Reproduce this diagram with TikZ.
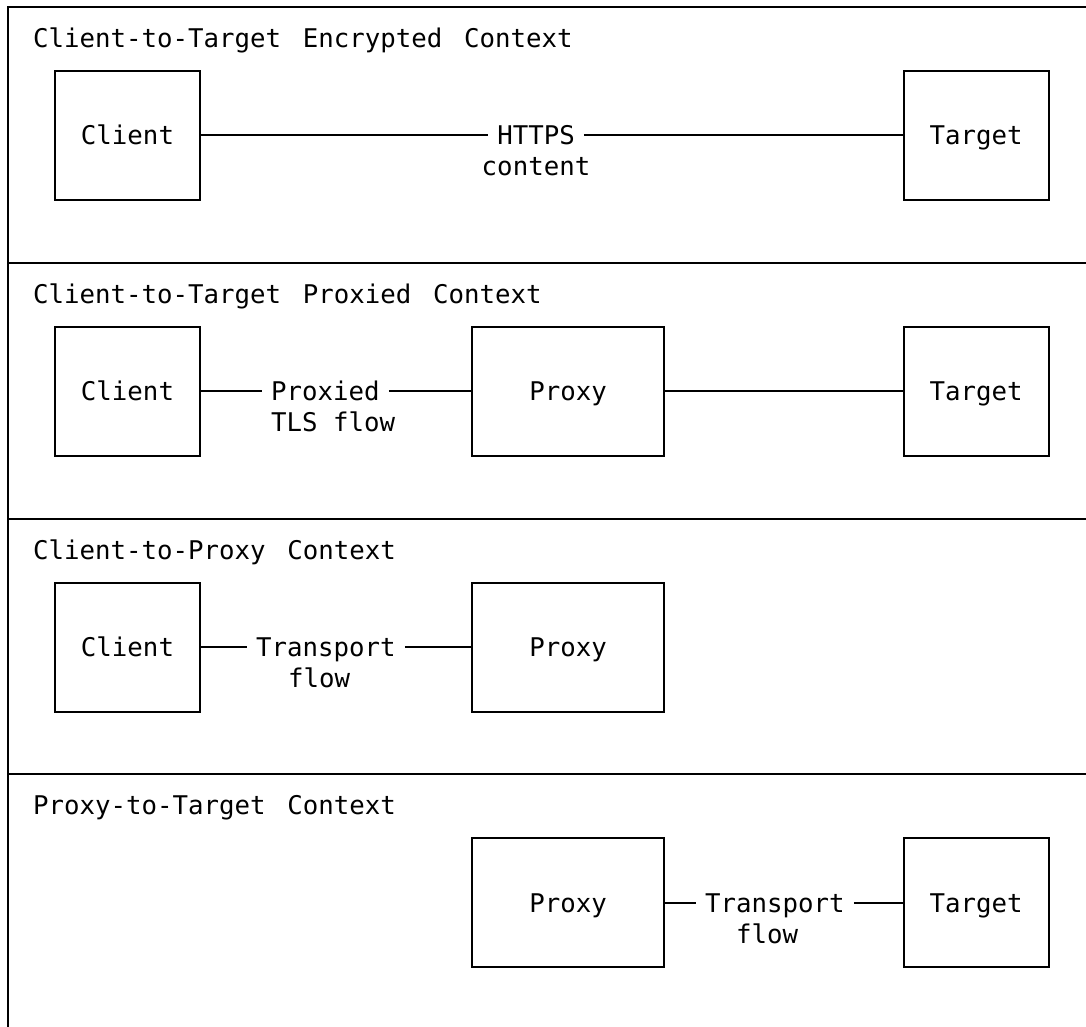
\documentclass[tikz,border=0pt]{standalone}
\usepackage{fontspec}
\newfontfamily\diagfont{DejaVu Sans Mono}
\usetikzlibrary{positioning}

\begin{document}
\begin{tikzpicture}[x=1pt,y=-1pt]
                \tikzstyle{every node}=[font=\diagfont\fontsize{25.75pt}{31pt}\selectfont]
                \tikzstyle{box} = [draw=black, line width=2pt, minimum width=145pt, minimum height=129pt, text height=18.8pt, text depth=0pt, inner sep=0pt]
                \tikzstyle{widebox} = [box, minimum width=192pt]
                \tikzstyle{flowtext} = [inner xsep=9pt, inner ysep=0pt, text height=18.8pt, text depth=0pt]
                \tikzstyle{title} = [font={\diagfont\fontsize{25.75pt}{31pt}\selectfont\spaceskip=21.7pt\relax}, inner sep=0pt, anchor=base west]
                \tikzstyle{edge} = [line width=2pt]

                \useasboundingbox (0,0) rectangle (1086,1027);

                % frame and dividers
                \draw[edge] (7.5,1027) -- (7.5,7.5) -- (1086,7.5);
                \foreach \y in {263.1,518.7,774.3}
                    \draw[edge] (7.5,\y) -- (1086,\y);

                \node[title](h1) at (33,48) {Client-to-Target Encrypted Context};
                \node[title](h2) at (33,303.6) {Client-to-Target Proxied Context};
                \node[title](h3) at (33,559.2) {Client-to-Proxy Context};
                \node[title](h4) at (33,814.8) {Proxy-to-Target Context};

                % encrypted
                \node[box](client1) at (127.5,135.5) {Client};
                \node[box](target1) at (976,135.5) {Target};
                \node[flowtext](l1) at (536,135.5) {HTTPS};
                \node[flowtext](l1b) at (536,166.5) {content};
                \draw[edge] (client1.east) -- (l1.west);
                \draw[edge] (l1.east) -- (target1.west);

                % proxied
                \node[box](client2) at (127.5,391.3) {Client};
                \node[widebox](proxy2) at (568,391.3) {Proxy};
                \node[box](target2) at (976,391.3) {Target};
                \node[flowtext, anchor=west](l2) at (262,391.3) {Proxied};
                \node[flowtext, anchor=west](l2b) at (262,422.3) {TLS flow};
                \draw[edge] (client2.east) -- (l2.west);
                \draw[edge] (l2.east) -- (proxy2.west);
                \draw[edge] (proxy2.east) -- (target2.west);

                % client to proxy
                \node[box](client3) at (127.5,647.1) {Client};
                \node[widebox](proxy3) at (568,647.1) {Proxy};
                \node[flowtext, anchor=west](l3) at (247,647.1) {Transport};
                \node[flowtext, anchor=west](l3b) at (279,678.1) {flow};
                \draw[edge] (client3.east) -- (l3.west);
                \draw[edge] (l3.east) -- (proxy3.west);

                % proxy to target
                \node[widebox](proxy4) at (568,902.9) {Proxy};
                \node[box](target4) at (976,902.9) {Target};
                \node[flowtext, anchor=west](l4) at (696,902.9) {Transport};
                \node[flowtext, anchor=west](l4b) at (727,933.9) {flow};
                \draw[edge] (proxy4.east) -- (l4.west);
                \draw[edge] (l4.east) -- (target4.west);

        \end{tikzpicture}
\end{document}
